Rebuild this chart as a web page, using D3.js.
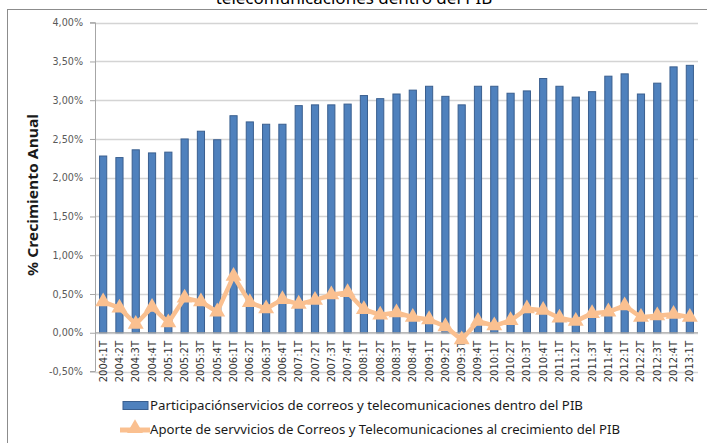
<!DOCTYPE html>
<html>
<head>
<meta charset="utf-8">
<script src="https://cdn.jsdelivr.net/npm/d3@7"></script>
<style>
  body { margin: 0; background: #fff; }
  svg { display: block; }
</style>
</head>
<body>
<div id="chart"></div>
<script>
var width = 707;
var height = 443;

// quarters 2004:1T .. 2013:1T
var quarters = [
  "2004:1T", "2004:2T", "2004:3T", "2004:4T",
  "2005:1T", "2005:2T", "2005:3T", "2005:4T",
  "2006:1T", "2006:2T", "2006:3T", "2006:4T",
  "2007:1T", "2007:2T", "2007:3T", "2007:4T",
  "2008:1T", "2008:2T", "2008:3T", "2008:4T",
  "2009:1T", "2009:2T", "2009:3T", "2009:4T",
  "2010:1T", "2010:2T", "2010:3T", "2010:4T",
  "2011:1T", "2011:2T", "2011:3T", "2011:4T",
  "2012:1T", "2012:2T", "2012:3T", "2012:4T",
  "2013:1T"
];

// Participación dentro del PIB (%)
var participacion = [
  2.28, 2.26, 2.36, 2.32, 2.33, 2.50, 2.60, 2.49,
  2.80, 2.72, 2.69, 2.69, 2.93, 2.94, 2.94, 2.95,
  3.06, 3.02, 3.08, 3.13, 3.18, 3.05, 2.94, 3.18,
  3.18, 3.09, 3.12, 3.28, 3.18, 3.04, 3.11, 3.31,
  3.34, 3.08, 3.22, 3.43, 3.45
];

// Aporte al crecimiento del PIB (%)
var aporte = [
  0.40, 0.32, 0.11, 0.33, 0.13, 0.45, 0.40, 0.27,
  0.73, 0.39, 0.31, 0.43, 0.37, 0.42, 0.49, 0.52,
  0.30, 0.23, 0.26, 0.20, 0.17, 0.08, -0.09, 0.15,
  0.09, 0.16, 0.31, 0.29, 0.19, 0.15, 0.25, 0.27,
  0.35, 0.20, 0.22, 0.24, 0.20
];

var yTicks = [-0.5, 0, 0.5, 1, 1.5, 2, 2.5, 3, 3.5, 4];

var serieBarras = "Participaciónservicios de correos y telecomunicaciones  dentro del PIB";
var serieLinea = "Aporte de servvicios de Correos y Telecomunicaciones al crecimiento del PIB";
var titulo = "telecomunicaciones dentro del PIB";

var plot = { left: 95, right: 698, top: 22.7, bottom: 371.5 };

var x = d3.scaleBand()
  .domain(quarters)
  .range([plot.left, plot.right])
  .paddingInner(0.56)
  .paddingOuter(0.28);

var y = d3.scaleLinear()
  .domain([-0.5, 4])
  .range([plot.bottom, plot.top]);

var fmt = function (d) { return d.toFixed(2).replace(".", ",") + "%"; };

var svg = d3.select("#chart")
  .append("svg")
  .attr("width", width)
  .attr("height", height);

// chart frame
svg.append("rect")
  .attr("x", 7.5).attr("y", 9.5)
  .attr("width", 720).attr("height", 460)
  .attr("fill", "none")
  .attr("stroke", "#8c8c8c")
  .attr("stroke-width", 1);

// title (cut at the top edge, as in the source)
svg.append("text")
  .attr("x", 354)
  .attr("y", 4)
  .attr("text-anchor", "middle")
  .style("font-family", "'Noto Sans', sans-serif")
  .style("font-size", "17px")
  .style("fill", "#000")
  .text(titulo);

// gridlines
svg.append("g")
  .selectAll("line")
  .data(yTicks)
  .enter()
  .append("line")
  .attr("x1", plot.left).attr("x2", plot.right)
  .attr("y1", function (d) { return Math.round(y(d)) + 0.5; })
  .attr("y2", function (d) { return Math.round(y(d)) + 0.5; })
  .attr("stroke", "#d4d4d4")
  .attr("stroke-width", 1.5);

// y axis
var yAxis = d3.axisLeft(y)
  .tickValues(yTicks)
  .tickFormat(fmt)
  .tickSize(5)
  .tickPadding(7);

var gy = svg.append("g")
  .attr("transform", "translate(" + plot.left + ",0)")
  .call(yAxis);
gy.select(".domain").attr("stroke", "#a6a6a6").attr("d", "M-5," + y(-0.5) + "H0.5V" + y(4) + "H-5");
gy.selectAll(".tick line").attr("stroke", "#a6a6a6");
gy.selectAll(".tick text")
  .style("font-family", "'DejaVu Sans', sans-serif")
  .style("font-size", "9.6px")
  .style("fill", "#595959");

// bars
svg.append("g")
  .selectAll("rect")
  .data(participacion)
  .enter()
  .append("rect")
  .attr("x", function (d, i) { return x(quarters[i]); })
  .attr("y", function (d) { return y(d); })
  .attr("width", x.bandwidth())
  .attr("height", function (d) { return y(0) - y(d); })
  .attr("fill", "#4f81bd")
  .attr("stroke", "#3a5f8f")
  .attr("stroke-width", 1);

// zero axis line
svg.append("line")
  .attr("x1", plot.left).attr("x2", plot.right)
  .attr("y1", y(0)).attr("y2", y(0))
  .attr("stroke", "#a6a6a6")
  .attr("stroke-width", 1.2);

// x labels
svg.append("g")
  .selectAll("text")
  .data(quarters)
  .enter()
  .append("text")
  .attr("transform", function (d) {
    return "translate(" + (x(d) + x.bandwidth() / 2 + 3.5) + ",341) rotate(-90)";
  })
  .attr("text-anchor", "end")
  .style("font-family", "'DejaVu Sans', sans-serif")
  .style("font-size", "10px")
  .style("fill", "#333")
  .text(function (d) { return d; });

// line series
var cx = function (i) { return x(quarters[i]) + x.bandwidth() / 2; };

var line = d3.line()
  .x(function (d, i) { return cx(i); })
  .y(function (d) { return y(d); });

svg.append("path")
  .datum(aporte)
  .attr("d", line)
  .attr("fill", "none")
  .attr("stroke", "#fac090")
  .attr("stroke-width", 4.5)
  .attr("stroke-linejoin", "round");

var tri = d3.symbol().type(d3.symbolTriangle).size(110);

svg.append("g")
  .selectAll("path")
  .data(aporte)
  .enter()
  .append("path")
  .attr("d", tri)
  .attr("transform", function (d, i) { return "translate(" + cx(i) + "," + y(d) + ")"; })
  .attr("fill", "#fac090");

// legend
var legend = svg.append("g")
  .style("font-family", "'Noto Sans', sans-serif")
  .style("font-size", "13px")
  .style("fill", "#1a1a1a");

legend.append("rect")
  .attr("x", 123).attr("y", 401.5)
  .attr("width", 25).attr("height", 8)
  .attr("fill", "#4f81bd")
  .attr("stroke", "#3a5f8f");

legend.append("text")
  .attr("x", 150).attr("y", 410)
  .attr("textLength", 433)
  .attr("lengthAdjust", "spacingAndGlyphs")
  .text(serieBarras);

legend.append("line")
  .attr("x1", 120).attr("x2", 150)
  .attr("y1", 430).attr("y2", 430)
  .attr("stroke", "#fac090")
  .attr("stroke-width", 5);

legend.append("path")
  .attr("d", tri)
  .attr("transform", "translate(135,428.5)")
  .attr("fill", "#fac090");

legend.append("text")
  .attr("x", 150).attr("y", 434)
  .attr("textLength", 470)
  .attr("lengthAdjust", "spacingAndGlyphs")
  .text(serieLinea);

// y axis title
svg.append("text")
  .attr("transform", "translate(38,195) rotate(-90)")
  .attr("text-anchor", "middle")
  .attr("textLength", 162)
  .attr("lengthAdjust", "spacingAndGlyphs")
  .style("font-family", "'Noto Sans', sans-serif")
  .style("font-size", "14px")
  .style("font-weight", "bold")
  .style("fill", "#1a1a1a")
  .text("%  Crecimiento Anual");
</script>
</body>
</html>
